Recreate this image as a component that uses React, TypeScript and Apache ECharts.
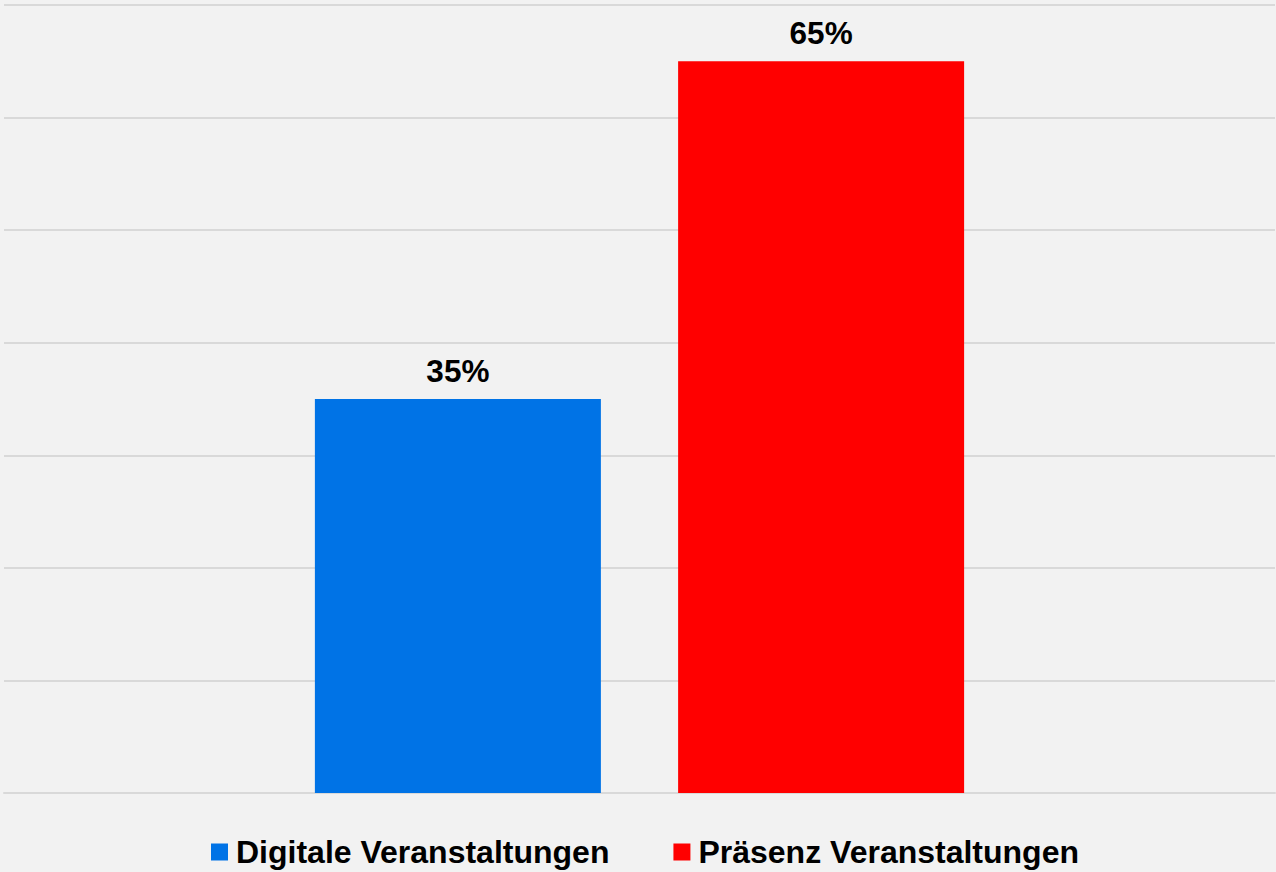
import React, { useEffect, useRef } from "react";
import * as echarts from "echarts";

const categories = ["Veranstaltungen"];
const seriesNames = ["Digitale Veranstaltungen", "Präsenz Veranstaltungen"];
const digitalValues = [35];
const praesenzValues = [65];
const seriesColors = ["#0073e6", "#ff0000"];

export default function App() {
  const ref = useRef<HTMLDivElement>(null);
  useEffect(() => {
    if (!ref.current) return;
    const chart = echarts.init(ref.current, null, { renderer: "svg" });
    const labelStyle = {
      show: true,
      position: "top",
      distance: 12,
      formatter: "{c}%",
      color: "#000",
      fontWeight: "bold",
      fontSize: 31.5,
      fontFamily: "Liberation Sans, Arial, sans-serif",
    };
    chart.setOption({
      animation: false,
      backgroundColor: "#f2f2f2",
      grid: { left: 4, right: 1, top: 5, bottom: 79, containLabel: false },
      legend: {
        data: seriesNames,
        left: 206,
        top: 831,
        padding: 5,
        icon: "rect",
        itemWidth: 17,
        itemHeight: 17,
        itemGap: 64,
        textStyle: {
          color: "#000",
          fontWeight: "bold",
          fontSize: 32,
          fontFamily: "Liberation Sans, Arial, sans-serif",
          padding: [0, 0, 0, 3],
        },
      },
      xAxis: {
        type: "category",
        data: categories,
        axisLine: { show: true, lineStyle: { color: "#d9d9d9", width: 2 } },
        axisTick: { show: false },
        axisLabel: { show: false },
      },
      yAxis: {
        type: "value",
        min: 0,
        max: 70,
        interval: 10,
        axisLabel: { show: false },
        axisLine: { show: false },
        axisTick: { show: false },
        splitLine: { show: true, lineStyle: { color: "#d9d9d9", width: 2 } },
      },
      series: [
        {
          name: seriesNames[0],
          type: "bar",
          data: digitalValues,
          barWidth: 286,
          barGap: "27%",
          itemStyle: { color: seriesColors[0] },
          label: labelStyle,
        },
        {
          name: seriesNames[1],
          type: "bar",
          data: praesenzValues,
          barWidth: 286,
          barGap: "27%",
          itemStyle: { color: seriesColors[1] },
          label: labelStyle,
        },
      ],
    });
    return () => chart.dispose();
  }, []);
  return (
    <div
      ref={ref}
      style={{ position: "fixed", left: 0, top: 0, width: 1276, height: 872 }}
    />
  );
}
